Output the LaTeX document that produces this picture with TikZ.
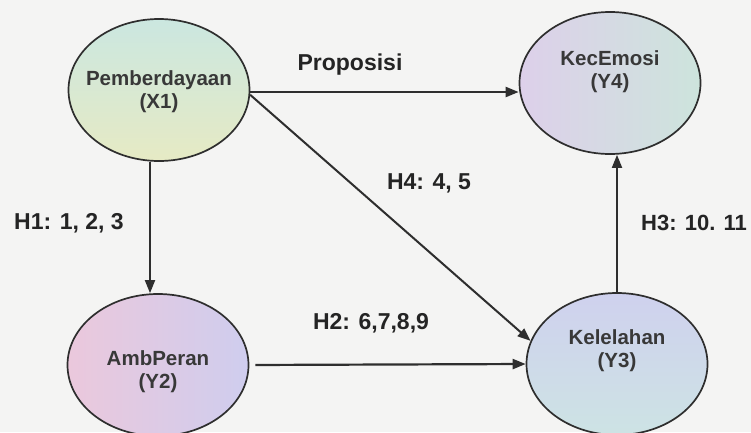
\documentclass[tikz,border=0pt]{standalone}
\usepackage{fontspec}
\setmainfont{Liberation Sans}
\usetikzlibrary{shapes.geometric,arrows.meta}
\definecolor{bgc}{HTML}{F4F4F3}
\definecolor{linec}{HTML}{2E2E2E}
\definecolor{txtc}{HTML}{383838}
\definecolor{labc}{HTML}{242424}
\definecolor{xa}{HTML}{CBE7E0}
\definecolor{xb}{HTML}{E6EAC4}
\definecolor{ya}{HTML}{DDD0EA}
\definecolor{yb}{HTML}{D0D5EF}
\definecolor{yc}{HTML}{CDE4DC}
\definecolor{pa}{HTML}{EBC8DC}
\definecolor{pb}{HTML}{E0C8E6}
\definecolor{pc}{HTML}{CFCDEE}
\definecolor{ka}{HTML}{CFD1EE}
\definecolor{kb}{HTML}{CDE3E4}
\begin{document}
\begin{tikzpicture}[x=1pt,y=1pt,
  bub/.style={ellipse, draw=linec, line width=1.7pt, inner sep=0pt,
              minimum width=181pt, minimum height=142pt},
  ntext/.style={font=\fontsize{20.5}{23}\selectfont\bfseries, text=txtc,
                align=center, inner sep=0pt},
  lab/.style={font=\fontsize{23}{26}\selectfont\bfseries, text=labc, inner sep=0pt},
  arr/.style={draw=linec, line width=1.8pt, -{Triangle[length=13pt,width=10pt]}}]
\clip (0,0) rectangle (751,-432);
\fill[bgc] (0,0) rectangle (751,-432);
\useasboundingbox (0,0) rectangle (751,-432);

% nodes
\node[bub, top color=xa, bottom color=xb] (X1) at (159,-90) {};
\node[bub, left color=ya, middle color=yb, right color=yc] (Y4) at (610,-83) {};
\node[bub, left color=pa, middle color=pb, right color=pc] (Y2) at (158,-365) {};
\node[bub, top color=ka, bottom color=kb] (Y3) at (617,-364) {};

\node[ntext] (X1t) at ([yshift=-1.5pt]X1.center) {Pemberdayaan\\(X1)};
\node[ntext] (Y4t) at ([yshift=11pt]Y4.center) {KecEmosi\\(Y4)};
\node[ntext] (Y2t) at ([yshift=-7pt]Y2.center) {AmbPeran\\(Y2)};
\node[ntext] (Y3t) at ([yshift=13pt]Y3.center) {Kelelahan\\(Y3)};

% helper coordinates
\coordinate (hy) at (0,-92);
\coordinate (vx) at (150,0);

% connectors
\draw[arr, line width=2.2pt] (X1.east |- hy) -- (Y4.west |- hy);
\draw[arr] (X1.south -| vx) -- (Y2.north -| vx);
\draw[arr, line width=2pt] (X1.-3) -- (Y3.165);
\draw[arr, line width=2.2pt, shorten <=6pt] (Y2.east) -- (Y3.west);
\draw[arr] (Y3.north) -- (Y3.north |- Y4.south);

% labels
\node[lab] (lp) at (350,-65) {Proposisi};
\node[lab] (l4) at (429,-183) {H4: 4, 5};
\node[lab] (l1) at (69,-223) {H1: 1, 2, 3};
\node[lab] (l2) at (371,-323) {H2: 6,7,8,9};
\node[lab, anchor=west, font=\fontsize{22}{25}\selectfont\bfseries] (l3) at (641,-223) {H3: 10. 11};
\end{tikzpicture}
\end{document}
